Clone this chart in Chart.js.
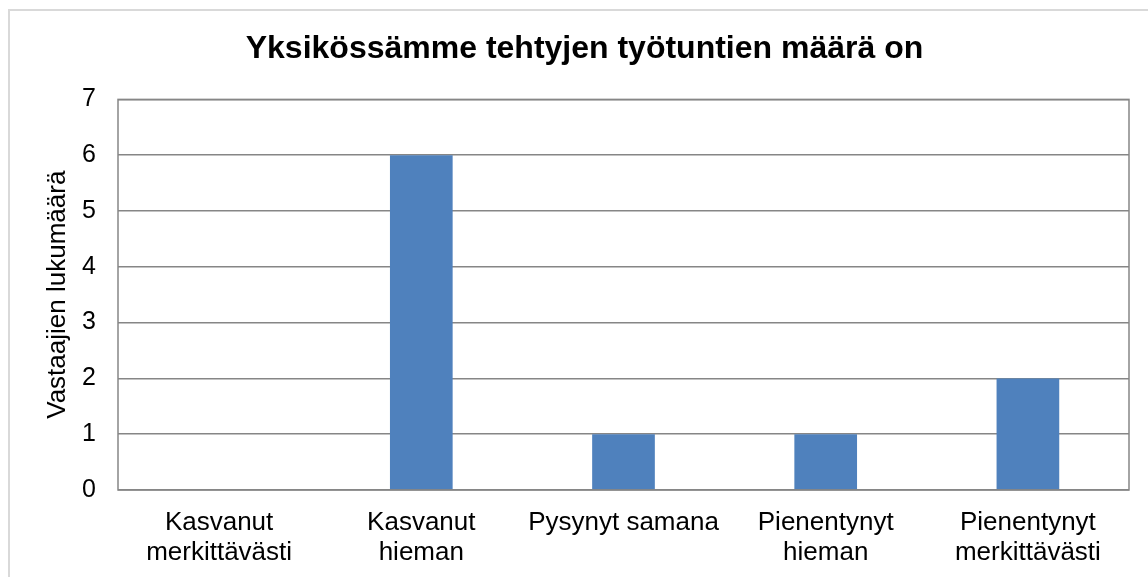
<!DOCTYPE html>
<html>
<head>
<meta charset="utf-8">
<script src="https://cdn.jsdelivr.net/npm/chart.js@4/dist/chart.umd.min.js"></script>
<style>
  html, body { margin: 0; padding: 0; background: #fff; }
  #box { position: absolute; left: 8px; top: 9px; width: 1160px; height: 600px; border: 2px solid #d9d9d9; }
  #wrap { position: absolute; left: 0; top: 0; width: 1148px; height: 577px; }
</style>
</head>
<body>
<div id="box"></div>
<div id="wrap"><canvas id="c"></canvas></div>
<script>
// kategoriat ja arvot
const kategoriat = [
  ["Kasvanut", "merkittävästi"],
  ["Kasvanut", "hieman"],
  "Pysynyt samana",
  ["Pienentynyt", "hieman"],
  ["Pienentynyt", "merkittävästi"]
];
const vastaajat = [0, 6, 1, 1, 2];
const yTicks = [0, 1, 2, 3, 4, 5, 6, 7];

const fontti = "'Liberation Sans', Arial, sans-serif";

// reunus piirtoalueen ympärille
const reunus = {
  id: "reunus",
  afterDraw(chart) {
    const a = chart.chartArea;
    const ctx = chart.ctx;
    ctx.save();
    ctx.strokeStyle = "#868686";
    ctx.lineWidth = 1.5;
    ctx.strokeRect(a.left, a.top, a.right - a.left, a.bottom - a.top);
    ctx.restore();
  }
};

const ctx = document.getElementById("c");
new Chart(ctx, {
  type: "bar",
  data: {
    labels: kategoriat,
    datasets: [{
      data: vastaajat,
      backgroundColor: "#4F81BD",
      borderWidth: 0,
      categoryPercentage: 1,
      barPercentage: 0.31
    }]
  },
  options: {
    responsive: true,
    maintainAspectRatio: false,
    animation: false,
    layout: { padding: { top: 10, right: 19, left: 40, bottom: 0 } },
    plugins: {
      legend: { display: false },
      tooltip: { enabled: false },
      title: {
        display: true,
        text: "Yksikössämme tehtyjen työtuntien määrä on",
        color: "#000",
        font: { family: fontti, size: 32, weight: "bold", lineHeight: 1.2 },
        padding: { top: 20, bottom: 31 }
      }
    },
    scales: {
      x: {
        grid: { display: false },
        border: { display: false },
        ticks: {
          color: "#000",
          font: { family: fontti, size: 26, lineHeight: 1.15 },
          padding: 10,
          maxRotation: 0,
          autoSkip: false
        },
        afterFit(scale) { scale.height = 87; }
      },
      y: {
        min: 0,
        max: 7,
        afterBuildTicks(scale) { scale.ticks = yTicks.map(v => ({ value: v })); },
        grid: { color: "#868686", lineWidth: 1.5, drawTicks: false },
        border: { display: false },
        ticks: {
          color: "#000",
          font: { family: fontti, size: 25 },
          padding: 22
        },
        title: {
          display: true,
          text: "Vastaajien lukumäärä",
          color: "#000",
          font: { family: fontti, size: 26, lineHeight: 1.2 },
          padding: { top: 2, bottom: 0 }
        },
        afterFit(scale) { scale.width = 78; }
      }
    }
  },
  plugins: [reunus]
});
</script>
</body>
</html>
